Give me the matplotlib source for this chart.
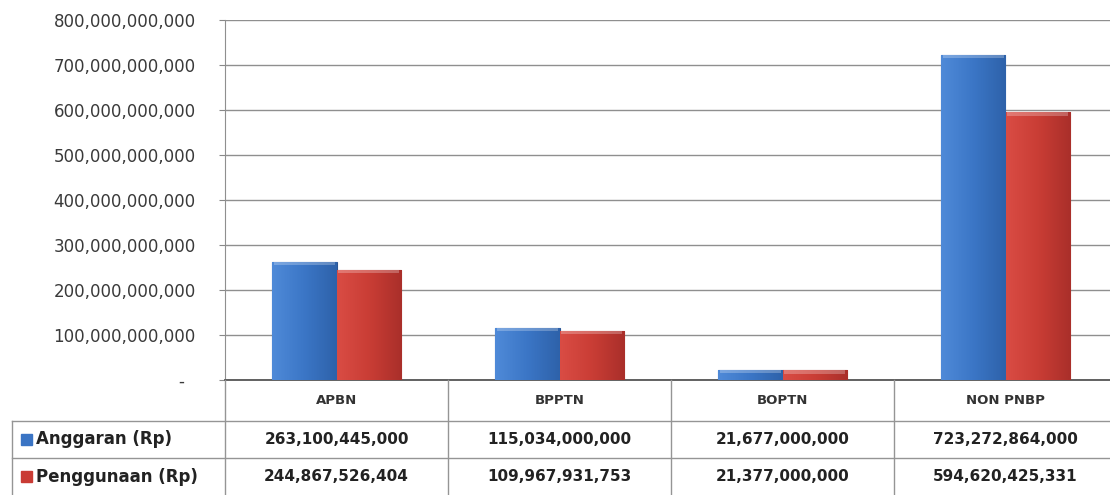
import numpy as np
import matplotlib
matplotlib.use('Agg')
import matplotlib.pyplot as plt
from matplotlib.ticker import FuncFormatter
from matplotlib.colors import LinearSegmentedColormap

# data
categories = ['APBN', 'BPPTN', 'BOPTN', 'NON PNBP']
series_names = ['Anggaran (Rp)', 'Penggunaan (Rp)']
anggaran = [263100445000, 115034000000, 21677000000, 723272864000]
penggunaan = [244867526404, 109967931753, 21377000000, 594620425331]
y_ticks = [0, 100e9, 200e9, 300e9, 400e9, 500e9, 600e9, 700e9, 800e9]

colors = ['#3a74c4', '#c93b34']
grads = [['#4f8ad8', '#3b76c6', '#2e62aa'], ['#d94c44', '#c93d35', '#aa2f2a']]

W, H = 1110, 495
fig = plt.figure(figsize=(W / 100, H / 100), dpi=100)
fig.patch.set_facecolor('white')

# main chart area (right edge runs slightly off the picture)
ax = fig.add_axes([225 / W, 115 / H, 892 / W, 360 / H])
ax.set_xlim(-0.5, 3.5)
ax.set_ylim(0, 800e9)

x = np.arange(len(categories))
bw = 0.288
bars1 = ax.bar(x - bw / 2, anggaran, bw, color=colors[0], edgecolor='#2a5595', linewidth=0.8, zorder=3)
bars2 = ax.bar(x + bw / 2, penggunaan, bw, color=colors[1], edgecolor='#8f2a25', linewidth=0.8, zorder=3)


# soft horizontal gradient + light top cap, imitating the bevelled bars
def shade(bars, cols):
    cmap = LinearSegmentedColormap.from_list('g', cols)
    grad = np.linspace(0, 1, 64).reshape(1, -1)
    for b in bars:
        x0, y0 = b.get_x(), b.get_y()
        w, h = b.get_width(), b.get_height()
        im = ax.imshow(grad, cmap=cmap, aspect='auto', extent=(x0, x0 + w, y0, y0 + h),
                       zorder=3.5, interpolation='bicubic')
        im.set_clip_path(b)
        cap = min(h, 7e9)
        ax.bar(x0 + w / 2, cap, w * 0.94, bottom=y0 + h - cap, color='white', alpha=0.25,
               linewidth=0, zorder=3.6)


shade(bars1, grads[0])
shade(bars2, grads[1])
ax.set_xlim(-0.5, 3.5)
ax.set_ylim(0, 800e9)

ax.set_yticks(y_ticks)
ax.yaxis.set_major_formatter(FuncFormatter(lambda v, p: '-  ' if v == 0 else f'{v:,.0f}'))
ax.tick_params(axis='y', length=4, pad=17, labelsize=12, labelcolor='#3a3a3a', color='#888888')
ax.set_xticks([])
ax.grid(axis='y', color='#8f8f8f', linewidth=1, zorder=0)
for s in ['top', 'right']:
    ax.spines[s].set_visible(False)
ax.spines['left'].set_color('#8f8f8f')
ax.spines['bottom'].set_color('#555555')
ax.spines['bottom'].set_linewidth(1.3)

# data table under the chart, sharing the category positions
tab = fig.add_axes([225 / W, 0, 892 / W, 115 / H], sharex=ax)
tab.set_ylim(0, 115)
tab.axis('off')
lc = '#959595'
left = -0.5 - 213 / 223
for xb in np.arange(-0.5, 4.0, 1.0):
    tab.plot([xb, xb], [0, 115], color=lc, lw=1, clip_on=False)
tab.plot([left, left], [0, 74], color=lc, lw=1, clip_on=False)
for yb in [74, 37]:
    tab.plot([left, 3.6], [yb, yb], color=lc, lw=1, clip_on=False)

for i, c in enumerate(categories):
    tab.text(i, 95, c, ha='center', va='center', fontsize=9.5, fontweight='bold', color='#333333')

rows = [anggaran, penggunaan]
row_y = [55.5, 18.5]
for r, vals in enumerate(rows):
    for i, v in enumerate(vals):
        tab.text(i, row_y[r], f'{v:,}', ha='center', va='center', fontsize=11,
                 fontweight='bold', color='#222222', clip_on=False)
    # legend key + row label
    fig.patches.append(plt.Rectangle((21 / W, (H - 421 - 37 * r - 24) / H), 11 / W, 11 / H,
                                     transform=fig.transFigure, color=colors[r], figure=fig))
    fig.text(36 / W, (H - 421 - 37 * r - 18.5) / H, series_names[r], ha='left', va='center',
             fontsize=12, fontweight='bold', color='#222222')

fig.savefig('out.png', dpi=100)
